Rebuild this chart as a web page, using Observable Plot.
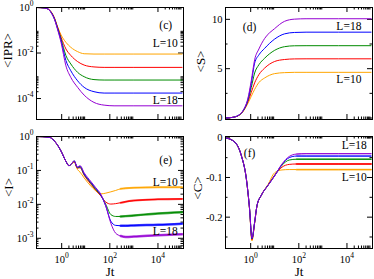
<!DOCTYPE html>
<html><head><meta charset="utf-8">
<script src="https://cdn.jsdelivr.net/npm/d3@7"></script>
<script src="https://cdn.jsdelivr.net/npm/@observablehq/plot@0.6"></script>
<style>
body{margin:0;background:#fff;}
#wrap{position:relative;width:374px;height:279px;overflow:hidden;background:#fff;}
.p{position:absolute;}
</style></head><body><div id="wrap"></div>
<script>
// ---------- data ----------
const seriesNames = ["L=10","L=12","L=14","L=16","L=18"];
const colors = ["#ffa500","#ff0000","#008b00","#0000ff","#9400d3"];

// (c) <IPR>
const tIPR = [0.09, 0.2, 0.3, 0.36, 0.5, 0.68, 0.94, 1.5, 2.4, 4.6, 8.6, 22, 58, 150, 1000, 1e5];
const ipr10 = [1, 0.955, 0.794, 0.661, 0.355, 0.141, 0.063, 0.0295, 0.0178, 0.0115, 0.0093, 0.009, 0.009, 0.009, 0.009, 0.009];
const ipr12 = [1, 0.955, 0.794, 0.646, 0.339, 0.132, 0.050, 0.0151, 0.0078, 0.0042, 0.00295, 0.00245, 0.00234, 0.00234, 0.00234, 0.00234];
const ipr14 = [1, 0.955, 0.794, 0.631, 0.324, 0.123, 0.0417, 0.0078, 0.0033, 0.00141, 0.00091, 0.00068, 0.00065, 0.00065, 0.00065, 0.00065];
const ipr16 = [1, 0.955, 0.794, 0.617, 0.316, 0.115, 0.0355, 0.0047, 0.00166, 0.0006, 0.00031, 0.0002, 0.000174, 0.000174, 0.000174, 0.000174];
const ipr18 = [1, 0.955, 0.794, 0.603, 0.302, 0.105, 0.0295, 0.00275, 0.00085, 0.00031, 0.000141, 0.0000676, 0.0000513, 0.0000479, 0.0000479, 0.0000479];

// (d) <S>
const tS = [0.09, 0.16, 0.3, 0.48, 0.77, 1.06, 1.46, 2.2, 3.8, 9.9, 25.6, 66, 200, 1e5];
const s10 = [0, 0.05, 0.22, 0.65, 1.5, 2.2, 2.9, 3.6, 4.06, 4.5, 4.6, 4.63, 4.63, 4.63];
const s12 = [0, 0.05, 0.23, 0.68, 1.65, 2.6, 3.56, 4.4, 5.06, 5.73, 5.93, 5.99, 6.0, 6.0];
const s14 = [0, 0.05, 0.24, 0.7, 1.8, 3.1, 4.56, 5.4, 6.06, 6.86, 7.23, 7.32, 7.33, 7.33];
const s16 = [0, 0.05, 0.25, 0.73, 1.9, 3.5, 5.56, 6.4, 7.06, 8.0, 8.53, 8.67, 8.7, 8.7];
const s18 = [0, 0.05, 0.25, 0.75, 2.0, 3.8, 5.9, 7.0, 8.06, 9.06, 9.8, 10.02, 10.06, 10.06];

// (e) <I>
const tI = [0.09, 0.3, 0.58, 0.94, 1.5, 2.0, 2.6, 3.3, 4.5, 5.8, 8.6, 16, 26, 42, 68, 110, 175, 285, 460, 1000, 1e4, 1e5];
const i10 = [1, 0.955, 0.646, 0.372, 0.186, 0.138, 0.158, 0.174, 0.107, 0.089, 0.060, 0.035, 0.0251, 0.0204, 0.0214, 0.0234, 0.0257, 0.0288, 0.030, 0.031, 0.032, 0.032];
const i12 = [1, 0.955, 0.646, 0.372, 0.186, 0.138, 0.158, 0.186, 0.117, 0.120, 0.072, 0.040, 0.0263, 0.0178, 0.0117, 0.0102, 0.0105, 0.0112, 0.0120, 0.0129, 0.0141, 0.0145];
const i14 = [1, 0.955, 0.646, 0.372, 0.186, 0.138, 0.158, 0.191, 0.120, 0.126, 0.076, 0.043, 0.0275, 0.0186, 0.010, 0.0050, 0.0044, 0.0044, 0.0045, 0.0047, 0.0054, 0.0059];
const i16 = [1, 0.955, 0.646, 0.372, 0.186, 0.138, 0.158, 0.191, 0.123, 0.132, 0.079, 0.045, 0.0295, 0.019, 0.0089, 0.0032, 0.0024, 0.00234, 0.00234, 0.0024, 0.0025, 0.0027];
const i18 = [1, 0.955, 0.646, 0.372, 0.186, 0.138, 0.158, 0.191, 0.126, 0.138, 0.085, 0.048, 0.031, 0.020, 0.0089, 0.0028, 0.00141, 0.00117, 0.0011, 0.00112, 0.00123, 0.00132];

// (f) <C>
const tC = [0.09, 0.22, 0.41, 0.66, 0.9, 1.13, 1.46, 1.83, 2.75, 5.2, 9.9, 20, 40, 80, 200, 1e5];
const c10 = [0, -0.011, -0.045, -0.103, -0.181, -0.26, -0.215, -0.172, -0.145, -0.118, -0.088, -0.081, -0.080, -0.080, -0.080, -0.080];
const c12 = [0, -0.011, -0.045, -0.103, -0.18, -0.257, -0.214, -0.171, -0.145, -0.12, -0.094, -0.074, -0.067, -0.066, -0.066, -0.066];
const c14 = [0, -0.011, -0.045, -0.103, -0.179, -0.255, -0.213, -0.171, -0.145, -0.12, -0.095, -0.069, -0.056, -0.054, -0.054, -0.054];
const c16 = [0, -0.011, -0.045, -0.103, -0.179, -0.254, -0.213, -0.171, -0.145, -0.12, -0.096, -0.067, -0.050, -0.046, -0.046, -0.046];
const c18 = [0, -0.011, -0.045, -0.103, -0.179, -0.253, -0.213, -0.171, -0.145, -0.12, -0.096, -0.066, -0.047, -0.041, -0.040, -0.040];

// ticks
const xMajor = [1, 1e2, 1e4];
const minorMult = [2, 3, 4, 5, 6, 7, 8, 9];
const yMajorIPR = [1, 1e-2, 1e-4];
const yMajorI = [1, 1e-1, 1e-2, 1e-3];
const yMajorS = [0, 5, 10];
const yMinorS = [2.5, 7.5];
const yMajorC = [0, -0.1, -0.2];
const yMinorC = [-0.05, -0.15, -0.25];

// ---------- drawing ----------
const FONT = "'Liberation Serif','Times New Roman',Times,serif";
const xDomain = [0.09, 1.15e5];
const logMinors = (majors, dom) => majors.flatMap(m => minorMult.map(k => k * m))
  .filter(v => v > Math.min(...dom) && v < Math.max(...dom));
const pow10 = d => "10^" + Math.round(Math.log10(d));

function supify(svg) {
  d3.select(svg).selectAll("text").each(function () {
    const m = /^10\^(.+)$/.exec(this.textContent);
    if (!m) return;
    const t = d3.select(this);
    t.text(null);
    t.append("tspan").text("10");
    t.append("tspan").attr("dy", "-0.6em").attr("font-size", "0.72em").text(m[1]);
  });
}

function panel(cfg) {
  const W = 187;
  const {left, top, height, mt, mb, ml, mr} = cfg;
  const ih = height - mt - mb, iw = W - ml - mr;
  const MAJ = 5, MIN = 2.5;
  const xMinor = logMinors(xMajor, xDomain);
  const marks = [];
  const tx = (vals, len) => [
    Plot.tickX(vals, {x: d => d, insetTop: ih - len, stroke: "black", strokeWidth: 1}),
    Plot.tickX(vals, {x: d => d, insetBottom: ih - len, stroke: "black", strokeWidth: 1})
  ];
  const ty = (vals, len) => [
    Plot.tickY(vals, {y: d => d, insetRight: iw - len, stroke: "black", strokeWidth: 1}),
    Plot.tickY(vals, {y: d => d, insetLeft: iw - len, stroke: "black", strokeWidth: 1})
  ];
  marks.push(...tx(xMajor, MAJ), ...tx(xMinor, MIN), ...ty(cfg.yMajor, MAJ), ...ty(cfg.yMinor, MIN));
  cfg.series.forEach((vals, i) => {
    const rows = cfg.T.map((t, j) => ({t, v: vals[j]}));
    marks.push(Plot.line(rows, {x: "t", y: "v", stroke: colors[i], strokeWidth: 1, curve: "monotone-x"}));
    if (cfg.thick) {
      marks.push(Plot.line(rows.filter(d => d.t >= cfg.thick.from), {x: "t", y: "v", stroke: colors[i], strokeWidth: cfg.thick.w[i], strokeOpacity: 0.75, curve: "monotone-x"}));
    }
  });
  marks.push(Plot.frame({stroke: "black", strokeWidth: 1}));
  marks.push(Plot.axisY(cfg.yMajor, {anchor: "left", label: null, tickSize: 0, tickPadding: 3, tickFormat: cfg.yFmt, fontSize: 10.5}));
  if (cfg.showX) {
    marks.push(Plot.axisX(xMajor, {anchor: "bottom", label: null, tickSize: 0, tickPadding: 7, tickFormat: pow10, fontSize: 10.5}));
    marks.push(Plot.text(["Jt"], {frameAnchor: "bottom", lineAnchor: "middle", textAnchor: "middle", dy: 23, fontSize: 13}));
  }
  marks.push(Plot.text([cfg.yLabel], {frameAnchor: "left", textAnchor: "middle", lineAnchor: "middle", dx: cfg.ylx, dy: cfg.yly, rotate: -90, fontSize: 13}));
  cfg.notes.forEach(n => marks.push(Plot.text([n], {x: d => d[1], y: d => d[2], text: d => d[0], fontSize: 11.5})));
  const svg = Plot.plot({
    width: W, height, marginTop: mt, marginBottom: mb, marginLeft: ml, marginRight: mr,
    x: {type: "log", domain: xDomain, axis: null},
    y: Object.assign({axis: null}, cfg.y),
    style: {fontFamily: FONT, fontSize: "10.5px", background: "transparent", color: "black", overflow: "visible"},
    marks
  });
  supify(svg);
  const div = document.createElement("div");
  div.className = "p";
  div.style.left = left + "px";
  div.style.top = top + "px";
  div.appendChild(svg);
  document.getElementById("wrap").appendChild(div);
}

const domIPR = [1.2e-5, 1];
panel({left: 0, top: 0, height: 130, mt: 7, mb: 11, ml: 36, mr: 4,
  y: {type: "log", domain: domIPR},
  yMajor: yMajorIPR, yMinor: logMinors(yMajorIPR, domIPR), yFmt: pow10,
  T: tIPR, series: [ipr10, ipr12, ipr14, ipr16, ipr18],
  yLabel: "<IPR>", ylx: -29, yly: -13, showX: false,
  notes: [["(c)", 2.1e4, 0.16], ["L=10", 2e4, 0.026], ["L=18", 2e4, 8e-5]]});

panel({left: 187, top: 0, height: 130, mt: 7, mb: 11, ml: 38, mr: 2,
  y: {type: "linear", domain: [-0.15, 11.2]},
  yMajor: yMajorS, yMinor: yMinorS, yFmt: d => String(d),
  T: tS, series: [s10, s12, s14, s16, s18],
  yLabel: "<S>", ylx: -25, yly: -2, showX: false,
  notes: [["(d)", 0.9, 9.2], ["L=18", 1.2e4, 9.3], ["L=10", 1.2e4, 3.9]]});

const domI = [5e-4, 1];
panel({left: 0, top: 130, height: 149, mt: 6, mb: 31, ml: 36, mr: 4,
  y: {type: "log", domain: domI},
  yMajor: yMajorI, yMinor: logMinors([1e-1, 1e-2, 1e-3, 1e-4], domI), yFmt: pow10,
  T: tI, series: [i10, i12, i14, i16, i18], thick: {from: 285, w: [2, 2, 2.5, 2.5, 2.5]},
  yLabel: "<I>", ylx: -28, yly: -5, showX: true,
  notes: [["(e)", 2.1e4, 0.2], ["L=10", 2e4, 0.046], ["L=18", 2e4, 0.00166]]});

panel({left: 187, top: 130, height: 149, mt: 6, mb: 31, ml: 38, mr: 2,
  y: {type: "linear", domain: [-0.279, 0.0033]},
  yMajor: yMajorC, yMinor: yMinorC, yFmt: d => d === 0 ? "0" : d.toFixed(1),
  T: tC, series: [c10, c12, c14, c16, c18], thick: {from: 80, w: [1.8, 1.8, 1.3, 1, 1]},
  yLabel: "<C>", ylx: -28, yly: -4.5, showX: true,
  notes: [["(f)", 0.9, -0.04], ["L=18", 2e4, -0.019], ["L=10", 2e4, -0.1]]});
</script>
</body></html>
